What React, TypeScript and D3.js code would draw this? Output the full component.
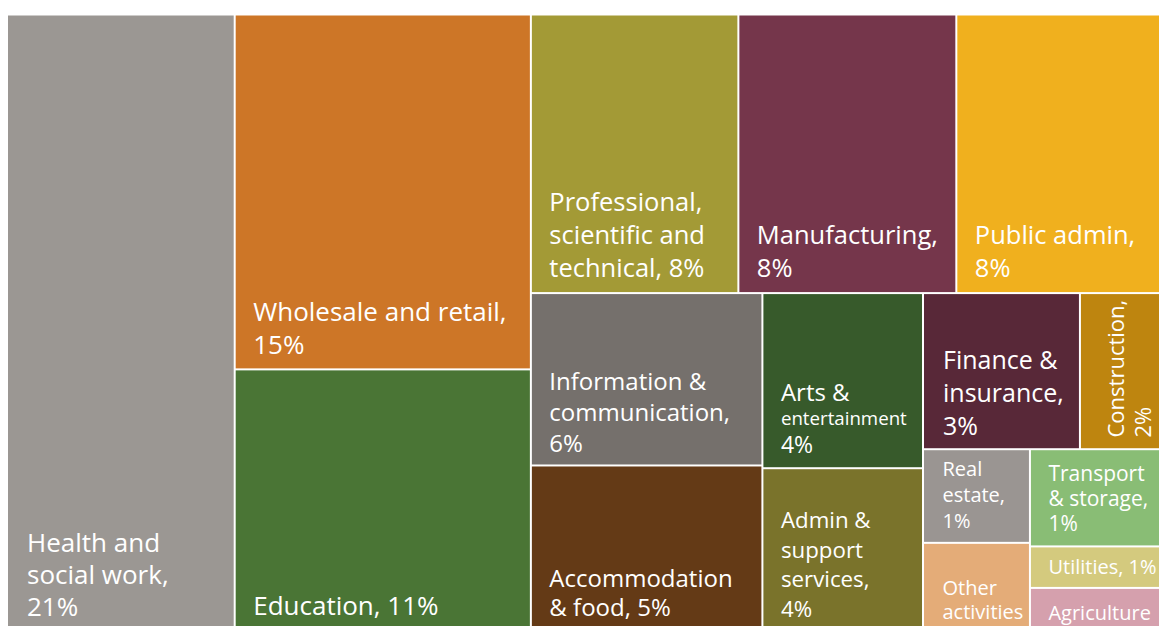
import React from 'react';
import * as d3 from 'd3';

// ---- Data ----
const categories = [
  'Health and social work',
  'Wholesale and retail',
  'Education',
  'Professional, scientific and technical',
  'Manufacturing',
  'Public admin',
  'Information & communication',
  'Accommodation & food',
  'Arts & entertainment',
  'Admin & support services',
  'Finance & insurance',
  'Construction',
  'Real estate',
  'Other activities',
  'Transport & storage',
  'Utilities',
  'Agriculture',
];

// share of the total (tile area), %
const shares = [19.75, 14.8, 10.89, 8.14, 8.55, 7.99, 5.62, 5.38, 3.96, 3.67, 3.45, 1.76, 1.41, 1.32, 1.78, 0.76, 0.78];

// data labels as printed (manual line breaks)
const labelLines = [
  ['Health and', 'social work,', '21%'],
  ['Wholesale and retail,', '15%'],
  ['Education, 11%'],
  ['Professional,', 'scientific and', 'technical, 8%'],
  ['Manufacturing,', '8%'],
  ['Public admin,', '8%'],
  ['Information &', 'communication,', '6%'],
  ['Accommodation', '& food, 5%'],
  ['Arts &', 'entertainment', '4%'],
  ['Admin &', 'support', 'services,', '4%'],
  ['Finance &', 'insurance,', '3%'],
  ['Construction,', '2%'],
  ['Real', 'estate,', '1%'],
  ['Other', 'activities'],
  ['Transport', '& storage,', '1%'],
  ['Utilities, 1%'],
  ['Agriculture'],
];

const colors = [
  '#9b9793', '#cd7627', '#4a7535', '#a39a36', '#75364b', '#f0b01e',
  '#75706c', '#643a16', '#375a2b', '#7a732b', '#582838', '#be850f',
  '#9a9592', '#e4ac78', '#89bd75', '#d4ca7e', '#d5a0ad',
];

// ---- Tiling structure (row = side by side, col = stacked) ----
type LNode = { dir?: 'row' | 'col'; i?: number; children?: LNode[] };
const leaf = (i: number): LNode => ({ i });
const tree: LNode = {
  dir: 'row',
  children: [
    leaf(0),
    { dir: 'col', children: [leaf(1), leaf(2)] },
    {
      dir: 'col',
      children: [
        { dir: 'row', children: [leaf(3), leaf(4), leaf(5)] },
        {
          dir: 'row',
          children: [
            { dir: 'col', children: [leaf(6), leaf(7)] },
            { dir: 'col', children: [leaf(8), leaf(9)] },
            {
              dir: 'col',
              children: [
                { dir: 'row', children: [leaf(10), leaf(11)] },
                {
                  dir: 'row',
                  children: [
                    { dir: 'col', children: [leaf(12), leaf(13)] },
                    { dir: 'col', children: [leaf(14), leaf(15), leaf(16)] },
                  ],
                },
              ],
            },
          ],
        },
      ],
    },
  ],
};

// ---- Label styles ----
type LStyle = { sizes: number[]; lh: number[]; pad: number; dx: number; rotate?: boolean };
const ls = (size: number, lh: number, pad: number, n: number, dx = 17.5): LStyle => ({
  sizes: Array(n).fill(size),
  lh: Array(Math.max(0, n - 1)).fill(lh),
  pad,
  dx,
});
const labelStyles: LStyle[] = [
  ls(26, 32, 13.8, 3, 19),
  ls(26, 33.5, 14.3, 2),
  ls(26, 0, 14.5, 1),
  ls(25.5, 33, 15, 3),
  ls(25.5, 33, 15, 2),
  ls(25.5, 33, 15, 2),
  ls(24, 31, 12.3, 3),
  ls(24, 29.5, 13.5, 2),
  { sizes: [24, 18.7, 23], lh: [24, 28.7], pad: 14, dx: 17.5 },
  ls(22.3, 29.5, 12.8, 4),
  ls(25, 33, 12.8, 3, 19),
  { ...ls(22, 27.5, 8, 2, 10.7), rotate: true },
  ls(20, 26, 13.6, 3, 18.5),
  ls(20, 23.3, 11, 2, 18.5),
  ls(21, 25, 14, 3),
  ls(20, 0, 12.8, 1),
  ls(20, 0, 9.5, 1),
];

const W = 1159;
const H = 626;
const X0 = 8;
const Y0 = 15.5;
const CW = 1151;
const CH = 614;
const FONT = "'Open Sans', 'Noto Sans', sans-serif";

export default function App() {
  const root = d3
    .hierarchy<LNode>(tree, (d) => d.children)
    .sum((d) => (d.i !== undefined ? shares[d.i] : 0));

  const tile = (node: any, x0: number, y0: number, x1: number, y1: number) => {
    if (node.data.dir === 'col') d3.treemapSlice(node, x0, y0, x1, y1);
    else d3.treemapDice(node, x0, y0, x1, y1);
  };

  const layout = d3.treemap<LNode>().size([CW, CH]).paddingInner(2).round(false).tile(tile);
  const laid = layout(root);
  const leaves = laid.leaves();

  return (
    <svg
      width={W}
      height={H}
      style={{ position: 'absolute', left: 0, top: 0, background: '#ffffff' }}
      fontFamily={FONT}
    >
      <defs>
        {leaves.map((n) => (
          <clipPath id={`clip-${n.data.i}`} key={`c${n.data.i}`}>
            <rect x={n.x0} y={n.y0} width={n.x1 - n.x0} height={n.y1 - n.y0} />
          </clipPath>
        ))}
      </defs>
      <g transform={`translate(${X0},${Y0})`}>
        {leaves.map((n) => {
          const i = n.data.i as number;
          const st = labelStyles[i];
          const lines = labelLines[i];
          const w = n.x1 - n.x0;
          const h = n.y1 - n.y0;
          // baseline offsets measured from the last line upwards
          const offs: number[] = [];
          let acc = 0;
          for (let k = lines.length - 1; k >= 0; k--) {
            offs[k] = acc;
            if (k > 0) acc += st.lh[k - 1];
          }
          let textEl;
          if (st.rotate) {
            const bx = n.x1 - st.pad;
            const by = n.y1 - st.dx;
            textEl = (
              <g transform={`translate(${bx},${by}) rotate(-90)`}>
                {lines.map((t, k) => (
                  <text key={k} x={0} y={-offs[k]} fill="#ffffff" fontSize={st.sizes[k]}>
                    {t}
                  </text>
                ))}
              </g>
            );
          } else {
            const bx = n.x0 + st.dx;
            const by = n.y1 - st.pad;
            textEl = (
              <g>
                {lines.map((t, k) => (
                  <text key={k} x={bx} y={by - offs[k]} fill="#ffffff" fontSize={st.sizes[k]}>
                    {t}
                  </text>
                ))}
              </g>
            );
          }
          return (
            <g key={i}>
              <rect x={n.x0} y={n.y0} width={w} height={h} fill={colors[i]}>
                <title>{`${categories[i]}: ${shares[i]}%`}</title>
              </rect>
              <g clipPath={`url(#clip-${i})`}>{textEl}</g>
            </g>
          );
        })}
      </g>
    </svg>
  );
}
